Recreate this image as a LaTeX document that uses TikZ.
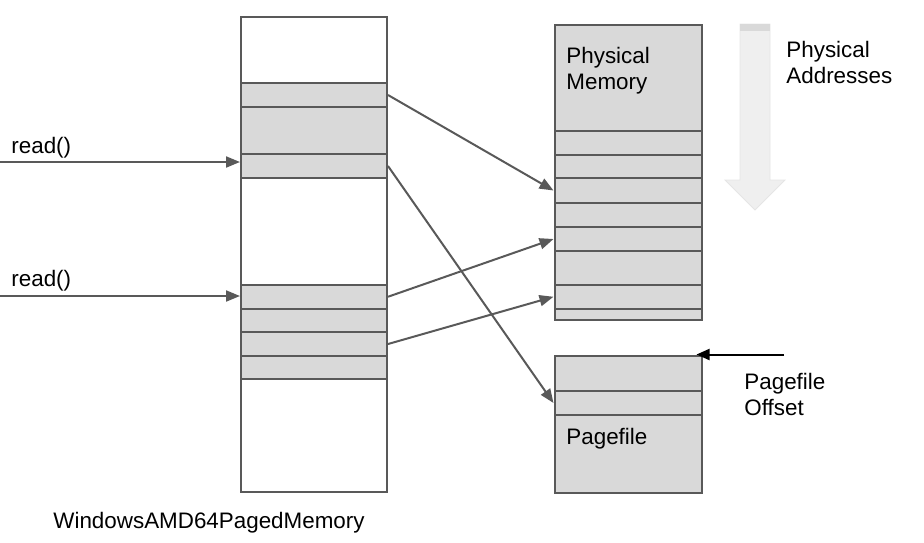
\documentclass[tikz,border=0pt]{standalone}
\usepackage{fontspec}
\setmainfont{Liberation Sans}
\usetikzlibrary{arrows.meta}
\definecolor{linegray}{HTML}{595959}
\definecolor{cellgray}{HTML}{D9D9D9}
\definecolor{addrgray}{HTML}{EFEFEF}
\tikzstyle{cell} = [rectangle, draw=linegray, fill=cellgray, line width=1pt, inner sep=0pt, anchor=north west, minimum width=73pt]
\tikzstyle{pcell} = [cell, minimum width=73.5pt]
\tikzstyle{label} = [inner sep=0pt, anchor=north west, align=left, font=\fontsize{11.2}{12.7}\selectfont]
\tikzstyle{conn} = [draw=linegray, line width=1pt, -{Triangle[length=7pt,width=5.5pt]}]

\begin{document}
\begin{tikzpicture}[x=0.5pt, y=-0.5pt]
        \useasboundingbox (0,0) rectangle (924,542);

        % virtual memory
        \node[cell, fill=white, minimum height=237.5pt] (virt) at (240,16) {};
        \node[cell, minimum height=12pt] (v1) at (240,82) {};
        \node[cell, minimum height=23.5pt] (v2) at (240,106) {};
        \node[cell, minimum height=12pt] (v3) at (240,153) {};
        \node[cell, minimum height=11.75pt] (v4) at (240,284) {};
        \node[cell, minimum height=11.75pt] (v5) at (240,307.5) {};
        \node[cell, minimum height=12pt] (v6) at (240,331) {};
        \node[cell, minimum height=11.5pt] (v7) at (240,355) {};

        % physical memory
        \node[pcell, minimum height=147.25pt] (phys) at (553.5,24) {};
        \node[pcell, minimum height=11.75pt] (p1) at (553.5,130) {};
        \node[pcell, minimum height=11.75pt] (p2) at (553.5,153.5) {};
        \node[pcell, minimum height=12.5pt] (p3) at (553.5,177) {};
        \node[pcell, minimum height=12pt] (p4) at (553.5,202) {};
        \node[pcell, minimum height=12pt] (p5) at (553.5,226) {};
        \node[pcell, minimum height=17pt] (p6) at (553.5,250) {};
        \node[pcell, minimum height=11.75pt] (p7) at (553.5,284) {};

        % pagefile
        \node[pcell, minimum height=68.5pt] (pagef) at (553.5,354.5) {};
        \node[pcell, minimum height=17.75pt] (f1) at (553.5,354.5) {};
        \node[pcell, minimum height=12pt] (f2) at (553.5,390) {};

        \node[label] (physlbl) at (566,47) {Physical\\Memory};
        \node[label] (pagelbl) at (566,428) {Pagefile};
        \node[label] (addrlbl) at (786,41) {Physical\\Addresses};
        \node[label] (offslbl) at (744,373) {Pagefile\\Offset};
        \node[label, anchor=base west] (read1) at (11,153) {read()};
        \node[label, anchor=base west] (read2) at (11,286) {read()};
        \node[label, anchor=base west] (virtlbl) at (53,528) {WindowsAMD64PagedMemory};

        % physical addresses arrow
        \fill[addrgray, draw=black!10] (740,24) -- (770,24) -- (770,180) -- (785,180) -- (755,210) -- (725,180) -- (740,180) -- cycle;
        \fill[black!15] (740,24) rectangle (770,31);

        \coordinate (in1) at (0,162);
        \coordinate (in2) at (0,296);
        \coordinate (offs) at (784,354.5);

        \draw[conn] (in1) -- (in1 -| v3.west);
        \draw[conn] (in2) -- (in2 -| v4.west);
        \draw[conn] (v1.east) -- (p3.west);
        \draw[conn] (v3.east) -- (f2.west);
        \draw[conn] (v4.east) -- (p5.west);
        \draw[conn] (v6.east) -- (p7.west);
        \draw[line width=1pt, shorten >=-3pt, -{Triangle[length=6.5pt,width=5.5pt]}] (offs) -- (pagef.north east);
    \end{tikzpicture}
\end{document}
